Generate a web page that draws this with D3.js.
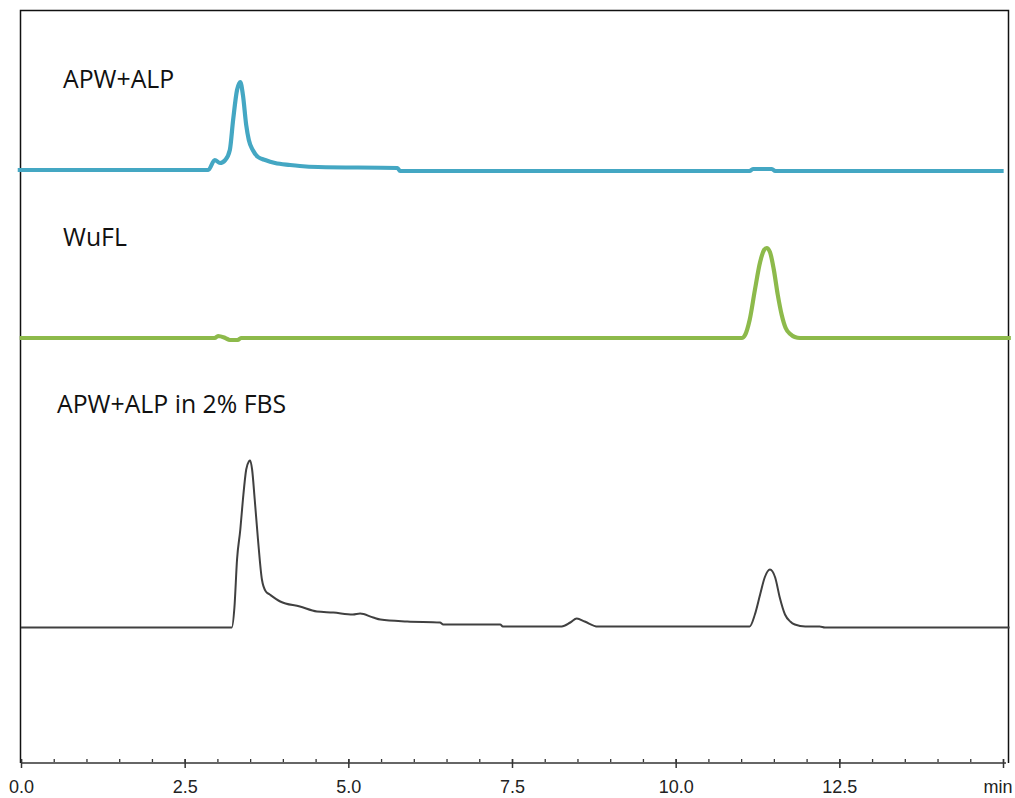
<!DOCTYPE html>
<html>
<head>
<meta charset="utf-8">
<script src="https://cdn.jsdelivr.net/npm/d3@7"></script>
<style>
  body { margin: 0; background: #fff; }
  svg { display: block; }
</style>
</head>
<body>
<div id="chart-area"></div>
<script>
// retention time (min) and detector signal (arbitrary units) for each run
var apwTime   = [-0.05, 2.86, 2.96, 3.04, 3.12, 3.19, 3.24, 3.30, 3.35, 3.39, 3.44, 3.48, 3.54, 3.62, 3.73, 3.88, 4.11, 4.26, 4.54, 5.75, 5.79, 11.13, 11.18, 11.47, 11.52, 15.01];
var apwSignal = [1, 1, 11, 8, 11, 21, 51, 81, 89, 76, 46, 31, 21, 14, 11, 8, 6, 5, 4, 3, 0, 0, 2, 2, 0, 0];

var wuflTime   = [-0.02, 2.96, 3.01, 3.12, 3.19, 3.31, 3.36, 11.01, 11.06, 11.13, 11.21, 11.29, 11.35, 11.39, 11.44, 11.50, 11.56, 11.62, 11.68, 11.75, 11.82, 11.90, 15.12];
var wuflSignal = [0, 0, 2, 0, -2, -2, 0, 0, 3, 18, 48, 76, 88, 90, 86, 68, 43, 23, 10, 4, 1, 0, 0];

var fbsTime   = [0, 3.22, 3.26, 3.30, 3.35, 3.39, 3.44, 3.48, 3.50, 3.53, 3.57, 3.62, 3.68, 3.74, 3.80, 3.96, 4.26, 4.52, 4.77, 5.07, 5.18, 5.38, 5.49, 5.90, 6.40, 6.45, 7.32, 7.36, 8.26, 8.39, 8.49, 8.61, 8.81, 11.13, 11.21, 11.29, 11.36, 11.44, 11.52, 11.59, 11.67, 11.75, 11.82, 11.98, 12.20, 12.28, 12.43, 15.1];
var fbsSignal = [0, 0, 20, 68, 98, 128, 158, 166, 167, 158, 128, 88, 48, 36, 33, 26, 21, 16, 15, 13, 14, 10, 8, 6, 5, 3, 3, 1, 1, 5, 9, 6, 1, 1, 13, 33, 50, 58, 50, 30, 13, 6, 3, 1, 1, 0, 0, 0];

var majorTicks = [0, 2.5, 5, 7.5, 10, 12.5, 15];
var tickLabels = ["0.0", "2.5", "5.0", "7.5", "10.0", "12.5", "min"];

var runs = [
    {name: "APW+ALP", time: apwTime, signal: apwSignal, base: 171, color: "#44a7c3", width: 4.2, lx: 63, ly: 88},
    {name: "WuFL", time: wuflTime, signal: wuflSignal, base: 338, color: "#8dba4b", width: 4.2, lx: 63, ly: 246},
    {name: "APW+ALP in 2% FBS", time: fbsTime, signal: fbsSignal, base: 627.5, color: "#404040", width: 2, lx: 57, ly: 413}
];

var svg = d3.select("#chart-area").append("svg")
    .attr("width", 1015)
    .attr("height", 798);

var x = d3.scaleLinear()
    .domain([0, 15])
    .range([21, 1003]);

// frame
svg.append("path")
    .attr("d", "M20.5,763 V10.5 H1008.5 V763")
    .attr("fill", "none")
    .attr("stroke", "#111")
    .attr("stroke-width", 1.5);

runs.forEach(function(r) {
    var y = d3.scaleLinear()
        .domain([0, 100])
        .range([r.base, r.base - 100]);

    var line = d3.line()
        .x(function(d) { return x(d[0]); })
        .y(function(d) { return y(d[1]); })
        .curve(d3.curveMonotoneX);

    svg.append("path")
        .datum(d3.zip(r.time, r.signal))
        .attr("d", line)
        .attr("fill", "none")
        .attr("stroke", r.color)
        .attr("stroke-width", r.width)
        .attr("stroke-linejoin", "round");

    svg.append("text")
        .attr("x", r.lx)
        .attr("y", r.ly)
        .attr("font-family", "'Open Sans', sans-serif")
        .attr("font-size", 24.8)
        .attr("fill", "#111")
        .text(r.name);
});

// minor ticks every 0.5 min
var minor = svg.append("g")
    .attr("transform", "translate(0,763)")
    .call(d3.axisTop(x).tickValues(d3.range(0, 15.01, 0.5)).tickSize(4).tickFormat(""));
minor.select(".domain").remove();
minor.selectAll("line").attr("stroke", "#333").attr("stroke-width", 1.3);

var axis = svg.append("g")
    .attr("transform", "translate(0,763)")
    .call(d3.axisBottom(x).tickValues(majorTicks).tickSize(5).tickPadding(12)
        .tickFormat(function(d, i) { return tickLabels[i]; }));
axis.select(".domain")
    .attr("d", "M21,0H1006")
    .attr("stroke", "#666")
    .attr("stroke-width", 2.2);
axis.selectAll("line")
    .attr("y1", -4)
    .attr("stroke", "#333")
    .attr("stroke-width", 1.5);
axis.selectAll("text")
    .attr("font-family", "'Liberation Sans', Arial, sans-serif")
    .attr("font-size", 18)
    .attr("fill", "#222");
// unit label sits left of the last tick so it stays inside the page
axis.selectAll("text")
    .filter(function(d) { return d === 15; })
    .attr("text-anchor", "end")
    .attr("dx", 9);
</script>
</body>
</html>
